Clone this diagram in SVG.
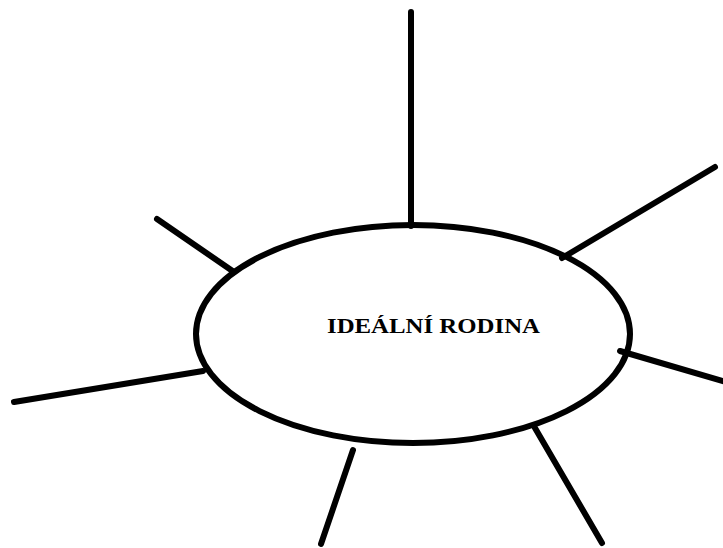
<svg xmlns="http://www.w3.org/2000/svg" width="723" height="548" viewBox="0 0 723 548">
<style>
.ln{stroke:#000;stroke-width:6;stroke-linecap:round;fill:none}
.lbl{font-family:"Liberation Serif","Times New Roman",serif;font-weight:bold;font-size:22px;fill:#000}
</style>
<rect width="723" height="548" fill="#fff"/>
<g id="connectors">
<line class="ln" x1="411" y1="12" x2="411" y2="226"/>
<line class="ln" x1="157" y1="219" x2="234" y2="272"/>
<line class="ln" x1="14" y1="402" x2="203" y2="371"/>
<line class="ln" x1="715" y1="167" x2="562" y2="258"/>
<line class="ln" x1="620" y1="351" x2="726" y2="382"/>
<line class="ln" x1="353" y1="450" x2="321" y2="544"/>
<line class="ln" x1="535" y1="428" x2="602" y2="543"/>
</g>
<g id="center">
<ellipse class="ln" cx="413" cy="334" rx="217" ry="109"/>
<text class="lbl" x="327" y="333" textLength="213" lengthAdjust="spacingAndGlyphs">IDEÁLNÍ RODINA</text>
</g>
</svg>
